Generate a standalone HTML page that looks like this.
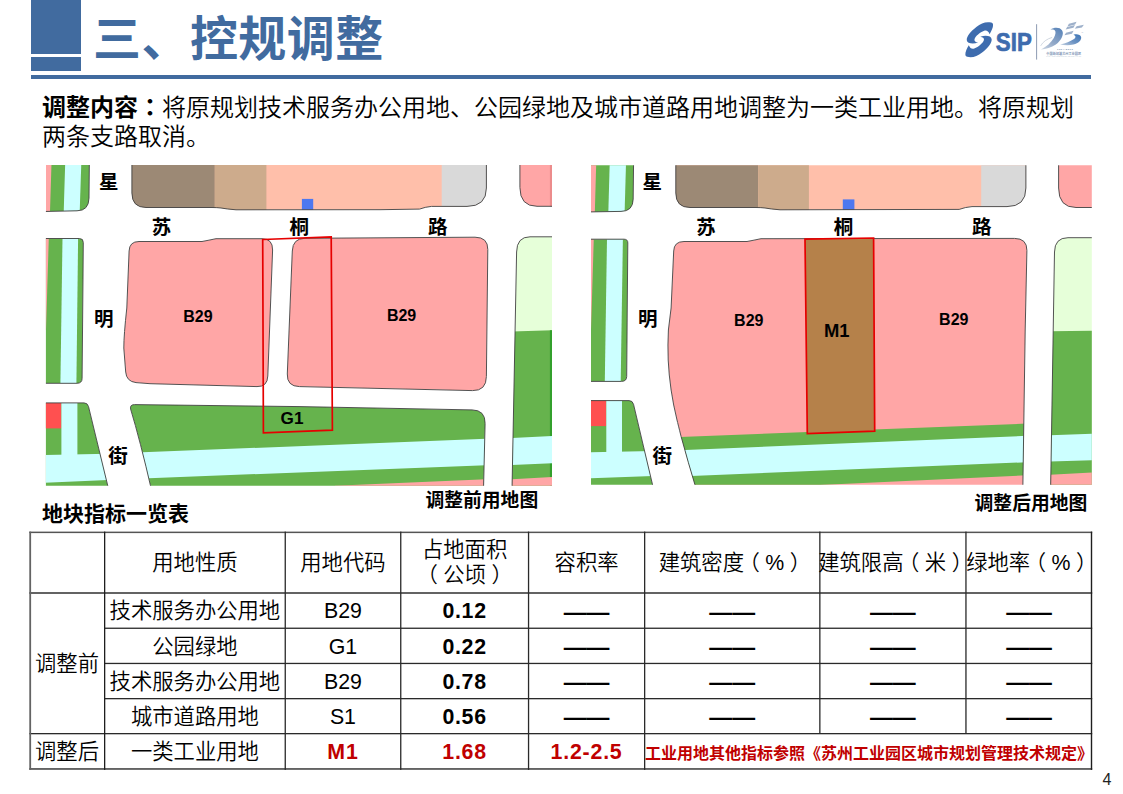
<!DOCTYPE html>
<html lang="zh-CN">
<head>
<meta charset="utf-8">
<title>三、控规调整</title>
<style>
html,body{margin:0;padding:0;background:#fff;}
body{width:1123px;height:794px;position:relative;overflow:hidden;
  font-family:"Liberation Sans","Noto Sans CJK SC",sans-serif;color:#000;}
.abs{position:absolute;}
.blk1{left:31px;top:0;width:50px;height:53.5px;background:#416b9f;}
.blk2{left:31px;top:57.3px;width:50px;height:13.6px;background:#416b9f;}
.hline{left:31px;top:75.2px;width:1060px;height:3.8px;background:#416b9f;}
.title{letter-spacing:0.45px;left:93px;top:7.5px;font-size:48px;line-height:64px;font-weight:700;color:#416b9f;white-space:nowrap;
  font-family:"Liberation Sans","Noto Sans CJK SC",sans-serif;}
.para{font-weight:350;left:42px;top:92.5px;width:1060px;font-size:24px;line-height:29.5px;white-space:nowrap;
  font-family:"Liberation Sans","Noto Sans CJK SC",sans-serif;}
.para b{font-weight:700;}
.cap{font-size:18.8px;font-weight:700;white-space:nowrap;font-family:"Liberation Sans","Noto Sans CJK SC",sans-serif;line-height:24px;}
.tt{left:42px;top:501.2px;font-size:21px;font-weight:700;white-space:nowrap;font-family:"Liberation Sans","Noto Sans CJK SC",sans-serif;line-height:26px;}
.pn{left:1102.5px;top:770px;font-size:16px;line-height:20px;color:#222;}
/* table */
.cell{position:absolute;display:flex;align-items:center;justify-content:center;text-align:center;
  font-size:21.33px;line-height:25px;white-space:nowrap;font-family:"Liberation Sans","Noto Sans CJK SC",sans-serif;box-sizing:border-box;padding-top:3px;}
.cell.h{padding-top:2px;}
.pl{position:relative;left:-5.5px;}
.pr{position:relative;left:5.5px;}
.cell{font-weight:350;}
.cell.b{font-weight:700;letter-spacing:0.7px;}
.cell.d{font-weight:700;font-size:22.9px;padding-top:3.5px;}
.cell.r{color:#c00000;font-weight:700;letter-spacing:0.8px;}
.vl,.hl{position:absolute;background:#333;}
</style>
</head>
<body>
<div class="abs blk1"></div>
<div class="abs blk2"></div>
<div class="abs hline"></div>
<div class="abs title">三、控规调整</div>
<div class="abs para"><b>调整内容<span lang="ja" style="font-family:'Liberation Sans','Noto Sans CJK JP',sans-serif">：</span></b>将原规划技术服务办公用地、公园绿地及城市道路用地调整为一类工业用地。将原规划<br>两条支路取消。</div>

<svg class="abs" style="left:0;top:0" width="1123" height="794" viewBox="0 0 1123 794">
<defs><linearGradient id="g2" x1="0.8" y1="0" x2="0.1" y2="1"><stop offset="0" stop-color="#5c86ba"/><stop offset="0.6" stop-color="#93a9c8"/><stop offset="1" stop-color="#c9d4e2"/></linearGradient><linearGradient id="g5" x1="1" y1="0" x2="0" y2="1"><stop offset="0" stop-color="#3b74b6"/><stop offset="0.55" stop-color="#6f95c4"/><stop offset="1" stop-color="#c3d0e0"/></linearGradient></defs>
<g transform="translate(960,16) scale(0.06042)" fill="#3e6cae">
<path d="M515,108 C430,88 350,118 270,180 C180,250 105,340 112,400 C118,455 210,470 300,440 C260,435 232,415 240,385 C255,335 330,270 400,245 C440,232 470,250 490,300 C520,250 550,190 547,145 C546,122 534,111 515,108 Z"/>
<path d="M515,108 C430,88 350,118 270,180 C180,250 105,340 112,400 C118,455 210,470 300,440 C260,435 232,415 240,385 C255,335 330,270 400,245 C440,232 470,250 490,300 C520,250 550,190 547,145 C546,122 534,111 515,108 Z" transform="rotate(180 318 392)"/>
</g>
<text x="995.8" y="50.6" font-size="26.6" font-weight="700" font-family="'Liberation Sans',sans-serif" fill="#3e6cae" stroke="#3e6cae" stroke-width="0.7" textLength="36" lengthAdjust="spacingAndGlyphs">SIP</text>
<rect x="1036.1" y="24.2" width="1" height="35.4" fill="#8e9cb3"/>
<g transform="translate(1030,15) scale(0.06297)">
<path d="M325,233 C380,195 470,190 510,245 C545,300 500,400 410,470 C340,520 250,545 175,548 C265,500 335,440 378,365 C408,308 415,262 392,243 C380,228 350,230 325,233 Z" fill="url(#g2)"/>
<path d="M172,485 C205,425 270,380 345,358" fill="none" stroke="#bcc6d3" stroke-width="11" stroke-linecap="round"/>
<path d="M690,312 C740,295 800,305 812,350 C822,400 770,450 690,470 C620,486 540,480 478,470 C570,448 640,420 692,386 C730,360 735,328 690,312 Z" fill="url(#g5)"/>
<polygon points="618,140 740,108 716,152 594,184" fill="#9db0ca"/>
<polygon points="590,190 714,158 690,202 566,232" fill="#9db0ca"/>
<polygon points="740,178 856,154 824,200 712,220" fill="#9db0ca"/>
<polygon points="572,280 692,252 666,296 548,320" fill="#9db0ca"/>
<text x="818" y="278" font-size="30" font-family="'Liberation Sans',sans-serif" fill="#9fb0c8">th</text>
<text x="555" y="550" font-size="40" font-weight="700" text-anchor="middle" font-family="'Liberation Sans',sans-serif" fill="#6f87a8" textLength="250">1994-2019</text>
<text x="535" y="630" font-size="50" font-weight="700" text-anchor="middle" font-family="'Liberation Sans','Noto Sans CJK SC',sans-serif" fill="#7f96b6" textLength="550">中国新加坡苏州工业园区</text>
<text x="535" y="666" font-size="18" text-anchor="middle" font-family="'Liberation Sans',sans-serif" fill="#a9b8cc" textLength="550">CHINA-SINGAPORE SUZHOU INDUSTRIAL PARK</text>
</g>
</svg>
<svg class="abs" style="left:0;top:0" width="1123" height="794" viewBox="0 0 1123 794">
<clipPath id="c1"><rect x="45.9" y="165.1" width="506.1" height="320.6"/></clipPath>
<g clip-path="url(#c1)">
<clipPath id="c2"><path d="M40,160 L89.4,160 L89,198 Q88.8,210.8 77,210.8 L40,211.6 Z"/></clipPath><g clip-path="url(#c2)"><path d="M40,160 L89.4,160 L89,198 Q88.8,210.8 77,210.8 L40,211.6 Z" fill="#66b34d"/><polygon points="40.0,160.0 51.6,160.0 50.0,212.0 40.0,212.0" fill="#ffa6a6"/><polygon points="65.3,160.0 81.4,160.0 79.7,212.0 63.7,212.0" fill="#ccffff"/></g><path d="M40,160 L89.4,160 L89,198 Q88.8,210.8 77,210.8 L40,211.6 Z" fill="none" stroke="#404040" stroke-width="0.9"/>
<clipPath id="c3"><path d="M131.9,160 L486.4,160 L486.4,188 Q486.4,206.4 467,206.4 L431.5,206.4 Q425,207 419.5,209.1 L380,209.7 L236,209.8 Q226,209 221,208 Q217,207.5 212,207.5 L146,207.5 Q131.9,207.5 131.9,193 Z"/></clipPath><g clip-path="url(#c3)"><path d="M131.9,160 L486.4,160 L486.4,188 Q486.4,206.4 467,206.4 L431.5,206.4 Q425,207 419.5,209.1 L380,209.7 L236,209.8 Q226,209 221,208 Q217,207.5 212,207.5 L146,207.5 Q131.9,207.5 131.9,193 Z" fill="#ffbfaa"/><rect x="120" y="150" width="94.8" height="70" fill="#9c8975"/><rect x="214.8" y="150" width="51.6" height="70" fill="#cdab8c"/><rect x="441.7" y="150" width="60" height="70" fill="#d9d9d9"/><rect x="301.9" y="198.9" width="11.3" height="12" fill="#4d78f0"/></g><path d="M131.9,160 L486.4,160 L486.4,188 Q486.4,206.4 467,206.4 L431.5,206.4 Q425,207 419.5,209.1 L380,209.7 L236,209.8 Q226,209 221,208 Q217,207.5 212,207.5 L146,207.5 Q131.9,207.5 131.9,193 Z" fill="none" stroke="#404040" stroke-width="0.9"/>
<clipPath id="c4"><path d="M519.9,160 L560,160 L560,206.3 L537,206.3 Q519.9,206.3 519.9,187.5 Z"/></clipPath><g clip-path="url(#c4)"><path d="M519.9,160 L560,160 L560,206.3 L537,206.3 Q519.9,206.3 519.9,187.5 Z" fill="#ffa6a6"/><rect x="549.9" y="160" width="5" height="50" fill="#ec8c8c"/></g><path d="M519.9,160 L560,160 L560,206.3 L537,206.3 Q519.9,206.3 519.9,187.5 Z" fill="none" stroke="#404040" stroke-width="0.9"/>
<clipPath id="c5"><path d="M40,238.5 L79.5,238.5 Q83.4,238.5 83.3,242.5 L82.1,378.5 Q82,383.3 77,383.3 L40,383.3 Z"/></clipPath><g clip-path="url(#c5)"><path d="M40,238.5 L79.5,238.5 Q83.4,238.5 83.3,242.5 L82.1,378.5 Q82,383.3 77,383.3 L40,383.3 Z" fill="#66b34d"/><polygon points="40.0,238.0 48.8,238.0 46.0,330.0 40.0,330.0" fill="#ffa6a6"/><polygon points="62.5,238.0 78.1,238.0 76.4,384.0 60.4,384.0" fill="#ccffff"/></g><path d="M40,238.5 L79.5,238.5 Q83.4,238.5 83.3,242.5 L82.1,378.5 Q82,383.3 77,383.3 L40,383.3 Z" fill="none" stroke="#404040" stroke-width="0.9"/>
<clipPath id="c6"><path d="M139,241.5 L202,241.5 Q209,240.2 216,238.7 L262,238.7 Q272.8,238.7 272.6,250 L267.8,376 Q267.5,386.9 257,386.6 L150,383.7 L136,382.6 Q126.4,381.5 125.7,372 L123.8,348 Q123.8,335 126.8,308 L129.1,251 Q129.4,241.5 139,241.5 Z"/></clipPath><g clip-path="url(#c6)"><path d="M139,241.5 L202,241.5 Q209,240.2 216,238.7 L262,238.7 Q272.8,238.7 272.6,250 L267.8,376 Q267.5,386.9 257,386.6 L150,383.7 L136,382.6 Q126.4,381.5 125.7,372 L123.8,348 Q123.8,335 126.8,308 L129.1,251 Q129.4,241.5 139,241.5 Z" fill="#ffa6a6"/></g><path d="M139,241.5 L202,241.5 Q209,240.2 216,238.7 L262,238.7 Q272.8,238.7 272.6,250 L267.8,376 Q267.5,386.9 257,386.6 L150,383.7 L136,382.6 Q126.4,381.5 125.7,372 L123.8,348 Q123.8,335 126.8,308 L129.1,251 Q129.4,241.5 139,241.5 Z" fill="none" stroke="#404040" stroke-width="0.9"/>
<clipPath id="c7"><path d="M305,238.3 L475,237.2 Q488,237.2 487.8,249.5 L486.4,376.5 Q486.3,390.9 472.5,390.6 L299.5,386.6 Q286.8,386.4 287.3,374 L292.3,251 Q292.7,238.3 305,238.3 Z"/></clipPath><g clip-path="url(#c7)"><path d="M305,238.3 L475,237.2 Q488,237.2 487.8,249.5 L486.4,376.5 Q486.3,390.9 472.5,390.6 L299.5,386.6 Q286.8,386.4 287.3,374 L292.3,251 Q292.7,238.3 305,238.3 Z" fill="#ffa6a6"/></g><path d="M305,238.3 L475,237.2 Q488,237.2 487.8,249.5 L486.4,376.5 Q486.3,390.9 472.5,390.6 L299.5,386.6 Q286.8,386.4 287.3,374 L292.3,251 Q292.7,238.3 305,238.3 Z" fill="none" stroke="#404040" stroke-width="0.9"/>
<clipPath id="c8"><path d="M530,236.8 L560,236.8 L560,490 L512,490 L516.6,252 Q516.8,236.8 530,236.8 Z"/></clipPath><g clip-path="url(#c8)"><path d="M530,236.8 L560,236.8 L560,490 L512,490 L516.6,252 Q516.8,236.8 530,236.8 Z" fill="#e6ffd9"/><polygon points="500.0,332.0 560.0,330.0 560.0,490.0 500.0,490.0" fill="#66b34d"/><polygon points="549.9,330.3 560.0,330.0 560.0,490.0 549.9,490.0" fill="#33a02c"/><polygon points="500.0,438.5 560.0,435.6 560.0,462.8 500.0,465.5" fill="#ccffff"/><polygon points="500.0,479.9 560.0,476.6 560.0,490.0 500.0,490.0" fill="#ffa6a6"/></g><path d="M530,236.8 L560,236.8 L560,490 L512,490 L516.6,252 Q516.8,236.8 530,236.8 Z" fill="none" stroke="#404040" stroke-width="0.9"/>
<clipPath id="c9"><path d="M40,402.9 L84,402.9 Q87.6,402.9 88.5,406.5 L108.8,490 L40,490 Z"/></clipPath><g clip-path="url(#c9)"><path d="M40,402.9 L84,402.9 Q87.6,402.9 88.5,406.5 L108.8,490 L40,490 Z" fill="#66b34d"/><rect x="40" y="402" width="21.3" height="26.4" fill="#ff5050"/><rect x="61.4" y="402" width="16" height="54" fill="#ccffff"/><polygon points="40.0,455.0 110.0,453.6 110.0,479.8 40.0,482.9" fill="#ccffff"/></g><path d="M40,402.9 L84,402.9 Q87.6,402.9 88.5,406.5 L108.8,490 L40,490 Z" fill="none" stroke="#404040" stroke-width="0.9"/>
<clipPath id="c10"><path d="M134.5,404.6 L300,406.6 L472,409.9 Q485.4,410 485.1,423.5 L483.5,490 L151.5,490 Q140,440 130.6,409 Q129.8,404.6 134.5,404.6 Z"/></clipPath><g clip-path="url(#c10)"><path d="M134.5,404.6 L300,406.6 L472,409.9 Q485.4,410 485.1,423.5 L483.5,490 L151.5,490 Q140,440 130.6,409 Q129.8,404.6 134.5,404.6 Z" fill="#66b34d"/><polygon points="130.0,452.8 490.0,438.6 490.0,465.2 130.0,478.9" fill="#ccffff"/><polygon points="335.0,485.8 490.0,479.1 490.0,492.0 335.0,492.0" fill="#ffa6a6"/></g><path d="M134.5,404.6 L300,406.6 L472,409.9 Q485.4,410 485.1,423.5 L483.5,490 L151.5,490 Q140,440 130.6,409 Q129.8,404.6 134.5,404.6 Z" fill="none" stroke="#404040" stroke-width="0.9"/>
</g>
<polygon points="262.7,239.5 331.2,236.9 332.4,430.2 263.4,432.8" fill="none" stroke="#e60000" stroke-width="1.7"/>
<text x="108.7" y="189.0" font-size="19.5" font-weight="700" text-anchor="middle" font-family="'Liberation Sans','Noto Sans CJK SC',sans-serif" fill="#000">星</text>
<text x="161.5" y="233.6" font-size="19.5" font-weight="700" text-anchor="middle" font-family="'Liberation Sans','Noto Sans CJK SC',sans-serif" fill="#000">苏</text>
<text x="299.2" y="233.6" font-size="19.5" font-weight="700" text-anchor="middle" font-family="'Liberation Sans','Noto Sans CJK SC',sans-serif" fill="#000">桐</text>
<text x="437.8" y="233.6" font-size="19.5" font-weight="700" text-anchor="middle" font-family="'Liberation Sans','Noto Sans CJK SC',sans-serif" fill="#000">路</text>
<text x="103.8" y="325.8" font-size="19.5" font-weight="700" text-anchor="middle" font-family="'Liberation Sans','Noto Sans CJK SC',sans-serif" fill="#000">明</text>
<text x="117.9" y="462.9" font-size="19.5" font-weight="700" text-anchor="middle" font-family="'Liberation Sans','Noto Sans CJK SC',sans-serif" fill="#000">街</text>
<text x="198.0" y="321.6" font-size="16" font-weight="700" text-anchor="middle" font-family="'Liberation Sans',sans-serif" fill="#000">B29</text>
<text x="401.6" y="321.1" font-size="16" font-weight="700" text-anchor="middle" font-family="'Liberation Sans',sans-serif" fill="#000">B29</text>
<text x="292.0" y="424.2" font-size="17.2" font-weight="700" text-anchor="middle" font-family="'Liberation Sans',sans-serif" fill="#000">G1</text>
<clipPath id="c11"><rect x="591" y="165.2" width="500.79999999999995" height="319.5"/></clipPath>
<g clip-path="url(#c11)">
<clipPath id="c12"><path d="M585,160 L633.6,160 L633.2,199 Q633,211.4 621,211.4 L585,212 Z"/></clipPath><g clip-path="url(#c12)"><path d="M585,160 L633.6,160 L633.2,199 Q633,211.4 621,211.4 L585,212 Z" fill="#66b34d"/><polygon points="585.0,160.0 596.3,160.0 594.8,213.0 585.0,213.0" fill="#ffa6a6"/><polygon points="609.8,160.0 626.1,160.0 624.6,213.0 608.3,213.0" fill="#ccffff"/></g><path d="M585,160 L633.6,160 L633.2,199 Q633,211.4 621,211.4 L585,212 Z" fill="none" stroke="#404040" stroke-width="0.9"/>
<clipPath id="c13"><path d="M675.8,160 L1025.9,160 L1025.9,188 Q1025.9,206.6 1007,206.6 L972,206.6 Q965,207.2 959.2,209.4 L780,209.8 Q770,209 765,208 Q761,207.5 756,207.5 L690,207.5 Q675.8,207.5 675.8,193 Z"/></clipPath><g clip-path="url(#c13)"><path d="M675.8,160 L1025.9,160 L1025.9,188 Q1025.9,206.6 1007,206.6 L972,206.6 Q965,207.2 959.2,209.4 L780,209.8 Q770,209 765,208 Q761,207.5 756,207.5 L690,207.5 Q675.8,207.5 675.8,193 Z" fill="#ffbfaa"/><rect x="660" y="150" width="98.2" height="70" fill="#9c8975"/><rect x="758.2" y="150" width="50.7" height="70" fill="#cdab8c"/><rect x="981.2" y="150" width="60" height="70" fill="#d9d9d9"/><rect x="842.8" y="199.4" width="11.6" height="12" fill="#4d78f0"/></g><path d="M675.8,160 L1025.9,160 L1025.9,188 Q1025.9,206.6 1007,206.6 L972,206.6 Q965,207.2 959.2,209.4 L780,209.8 Q770,209 765,208 Q761,207.5 756,207.5 L690,207.5 Q675.8,207.5 675.8,193 Z" fill="none" stroke="#404040" stroke-width="0.9"/>
<clipPath id="c14"><path d="M1058.6,160 L1100,160 L1100,207.5 L1076,207.5 Q1058.6,207.5 1058.6,188 Z"/></clipPath><g clip-path="url(#c14)"><path d="M1058.6,160 L1100,160 L1100,207.5 L1076,207.5 Q1058.6,207.5 1058.6,188 Z" fill="#ffa6a6"/></g><path d="M1058.6,160 L1100,160 L1100,207.5 L1076,207.5 Q1058.6,207.5 1058.6,188 Z" fill="none" stroke="#404040" stroke-width="0.9"/>
<clipPath id="c15"><path d="M585,239.2 L624,239.2 Q627.9,239.2 627.8,243 L626.7,376.5 Q626.6,381.4 621.5,381.4 L585,381.4 Z"/></clipPath><g clip-path="url(#c15)"><path d="M585,239.2 L624,239.2 Q627.9,239.2 627.8,243 L626.7,376.5 Q626.6,381.4 621.5,381.4 L585,381.4 Z" fill="#66b34d"/><polygon points="585.0,238.0 593.8,238.0 591.0,330.0 585.0,330.0" fill="#ffa6a6"/><polygon points="607.0,238.0 622.9,238.0 620.7,382.0 604.8,382.0" fill="#ccffff"/></g><path d="M585,239.2 L624,239.2 Q627.9,239.2 627.8,243 L626.7,376.5 Q626.6,381.4 621.5,381.4 L585,381.4 Z" fill="none" stroke="#404040" stroke-width="0.9"/>
<clipPath id="c16"><path d="M684,241.5 L747,241.5 Q754,240.2 761,238.7 L1014.5,238.4 Q1027.1,238.4 1026.9,250.5 L1025.2,330 L1022.8,490 L696.5,490 Q688,462 681.1,436.5 Q678,424 677,420 Q669.6,390 668.2,360 Q667.6,345 668.4,330 L671.1,308 L673.7,251 Q674,241.5 684,241.5 Z"/></clipPath><g clip-path="url(#c16)"><path d="M684,241.5 L747,241.5 Q754,240.2 761,238.7 L1014.5,238.4 Q1027.1,238.4 1026.9,250.5 L1025.2,330 L1022.8,490 L696.5,490 Q688,462 681.1,436.5 Q678,424 677,420 Q669.6,390 668.2,360 Q667.6,345 668.4,330 L671.1,308 L673.7,251 Q674,241.5 684,241.5 Z" fill="#ffa6a6"/><polygon points="660.0,437.8 1030.0,423.5 1030.0,475.1 820.0,485.0 660.0,492.0" fill="#66b34d"/><polygon points="660.0,451.0 1030.0,435.7 1030.0,462.1 660.0,477.2" fill="#ccffff"/></g><path d="M684,241.5 L747,241.5 Q754,240.2 761,238.7 L1014.5,238.4 Q1027.1,238.4 1026.9,250.5 L1025.2,330 L1022.8,490 L696.5,490 Q688,462 681.1,436.5 Q678,424 677,420 Q669.6,390 668.2,360 Q667.6,345 668.4,330 L671.1,308 L673.7,251 Q674,241.5 684,241.5 Z" fill="none" stroke="#404040" stroke-width="0.9"/>
<clipPath id="c17"><path d="M1068,237.7 L1100,237.7 L1100,490 L1050.6,490 L1054.5,252 Q1054.7,237.7 1068,237.7 Z"/></clipPath><g clip-path="url(#c17)"><path d="M1068,237.7 L1100,237.7 L1100,490 L1050.6,490 L1054.5,252 Q1054.7,237.7 1068,237.7 Z" fill="#e6ffd9"/><polygon points="1040.0,331.5 1100.0,330.5 1100.0,490.0 1040.0,490.0" fill="#66b34d"/><polygon points="1040.0,435.7 1100.0,433.5 1100.0,459.9 1040.0,461.8" fill="#ccffff"/><polygon points="1040.0,475.2 1100.0,472.2 1100.0,490.0 1040.0,490.0" fill="#ffa6a6"/></g><path d="M1068,237.7 L1100,237.7 L1100,490 L1050.6,490 L1054.5,252 Q1054.7,237.7 1068,237.7 Z" fill="none" stroke="#404040" stroke-width="0.9"/>
<clipPath id="c18"><path d="M585,400.6 L629,400.6 Q632.6,400.6 633.5,404.2 L653.8,490 L585,490 Z"/></clipPath><g clip-path="url(#c18)"><path d="M585,400.6 L629,400.6 Q632.6,400.6 633.5,404.2 L653.8,490 L585,490 Z" fill="#66b34d"/><rect x="585" y="400" width="21.3" height="26.1" fill="#ff5050"/><rect x="606.3" y="400" width="15.7" height="52" fill="#ccffff"/><polygon points="585.0,452.3 655.0,450.9 655.0,476.0 585.0,478.4" fill="#ccffff"/></g><path d="M585,400.6 L629,400.6 Q632.6,400.6 633.5,404.2 L653.8,490 L585,490 Z" fill="none" stroke="#404040" stroke-width="0.9"/>
</g>
<polygon points="805,239.2 873.6,238 874.7,431.2 807.3,433.7" fill="#b5814a" stroke="#e60000" stroke-width="1.7"/>
<text x="652.3" y="189.0" font-size="19.5" font-weight="700" text-anchor="middle" font-family="'Liberation Sans','Noto Sans CJK SC',sans-serif" fill="#000">星</text>
<text x="705.9" y="233.8" font-size="19.5" font-weight="700" text-anchor="middle" font-family="'Liberation Sans','Noto Sans CJK SC',sans-serif" fill="#000">苏</text>
<text x="843.4" y="233.8" font-size="19.5" font-weight="700" text-anchor="middle" font-family="'Liberation Sans','Noto Sans CJK SC',sans-serif" fill="#000">桐</text>
<text x="981.7" y="233.8" font-size="19.5" font-weight="700" text-anchor="middle" font-family="'Liberation Sans','Noto Sans CJK SC',sans-serif" fill="#000">路</text>
<text x="647.7" y="325.8" font-size="19.5" font-weight="700" text-anchor="middle" font-family="'Liberation Sans','Noto Sans CJK SC',sans-serif" fill="#000">明</text>
<text x="662.2" y="462.9" font-size="19.5" font-weight="700" text-anchor="middle" font-family="'Liberation Sans','Noto Sans CJK SC',sans-serif" fill="#000">街</text>
<text x="748.8" y="325.7" font-size="16" font-weight="700" text-anchor="middle" font-family="'Liberation Sans',sans-serif" fill="#000">B29</text>
<text x="953.8" y="324.5" font-size="16" font-weight="700" text-anchor="middle" font-family="'Liberation Sans',sans-serif" fill="#000">B29</text>
<text x="836.7" y="336.6" font-size="18.4" font-weight="700" text-anchor="middle" font-family="'Liberation Sans',sans-serif" fill="#000">M1</text>
</svg>

<div class="abs cap" style="left:425.5px;top:489.2px;">调整前用地图</div>
<div class="abs cap" style="left:974.6px;top:491.9px;">调整后用地图</div>
<div class="abs tt">地块指标一览表</div>

<svg class="abs" style="left:0;top:0" width="1123" height="794" viewBox="0 0 1123 794">
<rect x="29.3" y="531.6" width="1062.9" height="1.5" fill="#555"/>
<rect x="29.3" y="592.0" width="1062.9" height="2.0" fill="#636363"/>
<rect x="104.6" y="627.6" width="987.6" height="1.3" fill="#2a2a2a"/>
<rect x="104.6" y="662.8" width="987.6" height="1.3" fill="#2a2a2a"/>
<rect x="104.6" y="698.0" width="987.6" height="1.3" fill="#2a2a2a"/>
<rect x="29.3" y="733.0" width="1062.9" height="1.3" fill="#2a2a2a"/>
<rect x="29.3" y="768.0" width="1062.9" height="1.9" fill="#636363"/>
<rect x="29.3" y="531.6" width="1.8" height="238.3" fill="#636363"/>
<rect x="104.0" y="531.6" width="1.3" height="238.3" fill="#1e1e1e"/>
<rect x="284.6" y="531.6" width="1.3" height="238.3" fill="#2a2a2a"/>
<rect x="400.1" y="531.6" width="1.3" height="238.3" fill="#2a2a2a"/>
<rect x="527.9" y="531.6" width="1.3" height="238.3" fill="#2a2a2a"/>
<rect x="644.0" y="531.6" width="1.3" height="238.3" fill="#2a2a2a"/>
<rect x="819.2" y="531.6" width="1.3" height="202.0" fill="#2a2a2a"/>
<rect x="965.3" y="531.6" width="1.3" height="202.0" fill="#2a2a2a"/>
<rect x="1090.8" y="531.6" width="1.4" height="238.3" fill="#1e1e1e"/>
</svg>
<div class="cell h" style="left:104.6px;top:532.0px;width:180.6px;height:60.8px;"><div>用地性质</div></div>
<div class="cell h" style="left:285.2px;top:532.0px;width:115.5px;height:60.8px;"><div>用地代码</div></div>
<div class="cell h" style="left:400.7px;top:532.0px;width:127.8px;height:60.8px;"><div>占地面积<br><span class="pl">（</span>公顷<span class="pr">）</span></div></div>
<div class="cell h" style="left:528.5px;top:532.0px;width:116.1px;height:60.8px;"><div>容积率</div></div>
<div class="cell h" style="left:644.6px;top:532.0px;width:175.2px;height:60.8px;"><div>建筑密度<span class="pl">（</span>%<span class="pr">）</span></div></div>
<div class="cell h" style="left:819.8px;top:532.0px;width:146.1px;height:60.8px;"><div>建筑限高<span class="pl">（</span>米<span class="pr">）</span></div></div>
<div class="cell h" style="left:965.9px;top:532.0px;width:126.3px;height:60.8px;"><div>绿地率<span class="pl">（</span>%<span class="pr">）</span></div></div>
<div class="cell " style="left:29.4px;top:592.8px;width:75.2px;height:140.8px;"><div>调整前</div></div>
<div class="cell " style="left:29.4px;top:733.6px;width:75.2px;height:35.4px;"><div>调整后</div></div>
<div class="cell " style="left:104.6px;top:592.8px;width:180.6px;height:35.4px;"><div>技术服务办公用地</div></div>
<div class="cell " style="left:285.2px;top:592.8px;width:115.5px;height:35.4px;"><div>B29</div></div>
<div class="cell b" style="left:400.7px;top:592.8px;width:127.8px;height:35.4px;"><div>0.12</div></div>
<div class="cell d" style="left:528.5px;top:592.8px;width:116.1px;height:35.4px;"><div>——</div></div>
<div class="cell d" style="left:644.6px;top:592.8px;width:175.2px;height:35.4px;"><div>——</div></div>
<div class="cell d" style="left:819.8px;top:592.8px;width:146.1px;height:35.4px;"><div>——</div></div>
<div class="cell d" style="left:965.9px;top:592.8px;width:126.3px;height:35.4px;"><div>——</div></div>
<div class="cell " style="left:104.6px;top:628.2px;width:180.6px;height:35.2px;"><div>公园绿地</div></div>
<div class="cell " style="left:285.2px;top:628.2px;width:115.5px;height:35.2px;"><div>G1</div></div>
<div class="cell b" style="left:400.7px;top:628.2px;width:127.8px;height:35.2px;"><div>0.22</div></div>
<div class="cell d" style="left:528.5px;top:628.2px;width:116.1px;height:35.2px;"><div>——</div></div>
<div class="cell d" style="left:644.6px;top:628.2px;width:175.2px;height:35.2px;"><div>——</div></div>
<div class="cell d" style="left:819.8px;top:628.2px;width:146.1px;height:35.2px;"><div>——</div></div>
<div class="cell d" style="left:965.9px;top:628.2px;width:126.3px;height:35.2px;"><div>——</div></div>
<div class="cell " style="left:104.6px;top:663.4px;width:180.6px;height:35.2px;"><div>技术服务办公用地</div></div>
<div class="cell " style="left:285.2px;top:663.4px;width:115.5px;height:35.2px;"><div>B29</div></div>
<div class="cell b" style="left:400.7px;top:663.4px;width:127.8px;height:35.2px;"><div>0.78</div></div>
<div class="cell d" style="left:528.5px;top:663.4px;width:116.1px;height:35.2px;"><div>——</div></div>
<div class="cell d" style="left:644.6px;top:663.4px;width:175.2px;height:35.2px;"><div>——</div></div>
<div class="cell d" style="left:819.8px;top:663.4px;width:146.1px;height:35.2px;"><div>——</div></div>
<div class="cell d" style="left:965.9px;top:663.4px;width:126.3px;height:35.2px;"><div>——</div></div>
<div class="cell " style="left:104.6px;top:698.6px;width:180.6px;height:35.0px;"><div>城市道路用地</div></div>
<div class="cell " style="left:285.2px;top:698.6px;width:115.5px;height:35.0px;"><div>S1</div></div>
<div class="cell b" style="left:400.7px;top:698.6px;width:127.8px;height:35.0px;"><div>0.56</div></div>
<div class="cell d" style="left:528.5px;top:698.6px;width:116.1px;height:35.0px;"><div>——</div></div>
<div class="cell d" style="left:644.6px;top:698.6px;width:175.2px;height:35.0px;"><div>——</div></div>
<div class="cell d" style="left:819.8px;top:698.6px;width:146.1px;height:35.0px;"><div>——</div></div>
<div class="cell d" style="left:965.9px;top:698.6px;width:126.3px;height:35.0px;"><div>——</div></div>
<div class="cell " style="left:104.6px;top:733.6px;width:180.6px;height:35.4px;"><div>一类工业用地</div></div>
<div class="cell r" style="left:285.2px;top:733.6px;width:115.5px;height:35.4px;"><div>M1</div></div>
<div class="cell r" style="left:400.7px;top:733.6px;width:127.8px;height:35.4px;"><div>1.68</div></div>
<div class="cell r" style="left:528.5px;top:733.6px;width:116.1px;height:35.4px;"><div>1.2-2.5</div></div>
<div class="cell r" style="left:644.6px;top:733.6px;width:447.6px;height:35.4px;font-size:16px;letter-spacing:0;justify-content:flex-start;padding-left:0.5px;padding-top:5px;font-family:'Liberation Sans','Noto Sans CJK SC',sans-serif;"><div>工业用地其他指标参照《苏州工业园区城市规划管理技术规定》</div></div>

<div class="abs pn">4</div>
</body>
</html>
